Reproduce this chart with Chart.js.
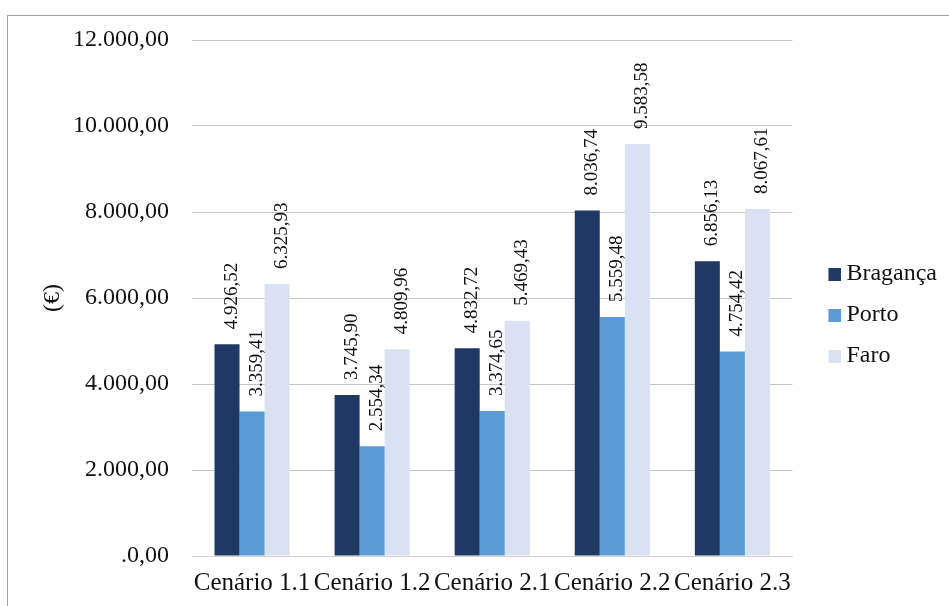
<!DOCTYPE html>
<html>
<head>
<meta charset="utf-8">
<script src="https://cdn.jsdelivr.net/npm/chart.js@4/dist/chart.umd.min.js"></script>
<style>
  html, body { margin: 0; padding: 0; background: #fff; }
  #wrap { width: 949px; height: 606px; }
</style>
</head>
<body>
<div id="wrap"><canvas id="c" width="949" height="606"></canvas></div>
<script>
// Cenários de custo por cidade (€)
const categories = ['Cenário 1.1', 'Cenário 1.2', 'Cenário 2.1', 'Cenário 2.2', 'Cenário 2.3'];
const braganca = [4926.52, 3745.90, 4832.72, 8036.74, 6856.13];
const porto    = [3359.41, 2554.34, 3374.65, 5559.48, 4754.42];
const faro     = [6325.93, 4809.96, 5469.43, 9583.58, 8067.61];
const seriesNames = ['Bragança', 'Porto', 'Faro'];
const yTickLabels = ['.0,00', '2.000,00', '4.000,00', '6.000,00', '8.000,00', '10.000,00', '12.000,00'];
const yAxisTitle = '(€)';

const colors = ['#203864', '#5B9BD5', '#D9E1F2'];
const serif = "'Liberation Serif', 'DejaVu Serif', serif";

// 4926.52 -> "4.926,52"
function fmtPt(v) {
  const [i, d] = v.toFixed(2).split('.');
  return i.replace(/\B(?=(\d{3})+(?!\d))/g, '.') + ',' + d;
}

// Legend marker: square drawn at the right end of a wider transparent canvas,
// so it sits close to its label
function legendMarker(color) {
  const c = document.createElement('canvas');
  c.width = 39; c.height = 13;
  const g = c.getContext('2d');
  g.fillStyle = color;
  g.fillRect(39 - 13, 0, 13, 13);
  return c;
}
const markers = colors.map(legendMarker);

// Outer frame of the chart
const framePlugin = {
  id: 'frame',
  beforeDraw(chart) {
    const ctx = chart.ctx;
    ctx.save();
    ctx.fillStyle = '#fff';
    ctx.fillRect(0, 0, chart.width, chart.height);
    ctx.strokeStyle = '#A6A6A6';
    ctx.lineWidth = 1;
    ctx.strokeRect(7.5, 15.5, 2000, 2000);
    ctx.restore();
  }
};

// Vertical value labels above each bar
const valueLabels = {
  id: 'valueLabels',
  afterDatasetsDraw(chart) {
    const ctx = chart.ctx;
    ctx.save();
    ctx.font = '19px ' + serif;
    ctx.fillStyle = '#111';
    ctx.textAlign = 'left';
    ctx.textBaseline = 'alphabetic';
    chart.data.datasets.forEach((ds, di) => {
      chart.getDatasetMeta(di).data.forEach((bar, i) => {
        ctx.save();
        ctx.translate(bar.x + 10, bar.y - 15);
        ctx.rotate(-Math.PI / 2);
        ctx.fillText(fmtPt(ds.data[i]), 0, 0);
        ctx.restore();
      });
    });
    ctx.restore();
  }
};

new Chart(document.getElementById('c'), {
  type: 'bar',
  data: {
    labels: categories,
    datasets: [
      { label: seriesNames[0], data: braganca, backgroundColor: colors[0] },
      { label: seriesNames[1], data: porto, backgroundColor: colors[1] },
      { label: seriesNames[2], data: faro, backgroundColor: colors[2] }
    ]
  },
  options: {
    responsive: false,
    animation: false,
    devicePixelRatio: 1,
    layout: { padding: { left: 0, top: 40, right: 2, bottom: 16 } },
    datasets: { bar: { categoryPercentage: 0.625, barPercentage: 1.0 } },
    scales: {
      x: {
        grid: { display: false, drawTicks: false },
        border: { display: true, color: '#CFCFCF', width: 1 },
        ticks: {
          autoSkip: false, maxRotation: 0, minRotation: 0, padding: 12,
          color: '#111', font: { family: serif, size: 25 }
        },
        afterFit(s) { s.height = 34; }
      },
      y: {
        min: 0, max: 12000,
        grid: { color: '#C4C4C4', lineWidth: 1, drawTicks: false },
        border: { display: false },
        ticks: {
          stepSize: 2000, padding: 23, color: '#111',
          font: { family: serif, size: 24 },
          callback: (v, i) => yTickLabels[i]
        },
        title: {
          display: true, text: yAxisTitle, color: '#111',
          font: { family: serif, size: 24 },
          padding: { top: 38, bottom: 0 }
        },
        afterFit(s) { s.width = 192; }
      }
    },
    plugins: {
      tooltip: { enabled: false },
      legend: {
        position: 'right',
        labels: {
          usePointStyle: true,
          pointStyleWidth: 25,
          boxHeight: 13,
          padding: 17,
          color: '#111',
          font: { family: serif, size: 24 },
          generateLabels(chart) {
            const items = Chart.defaults.plugins.legend.labels.generateLabels(chart);
            items.forEach((it, i) => { it.pointStyle = markers[i]; });
            return items;
          }
        }
      }
    }
  },
  plugins: [framePlugin, valueLabels]
});
</script>
</body>
</html>
